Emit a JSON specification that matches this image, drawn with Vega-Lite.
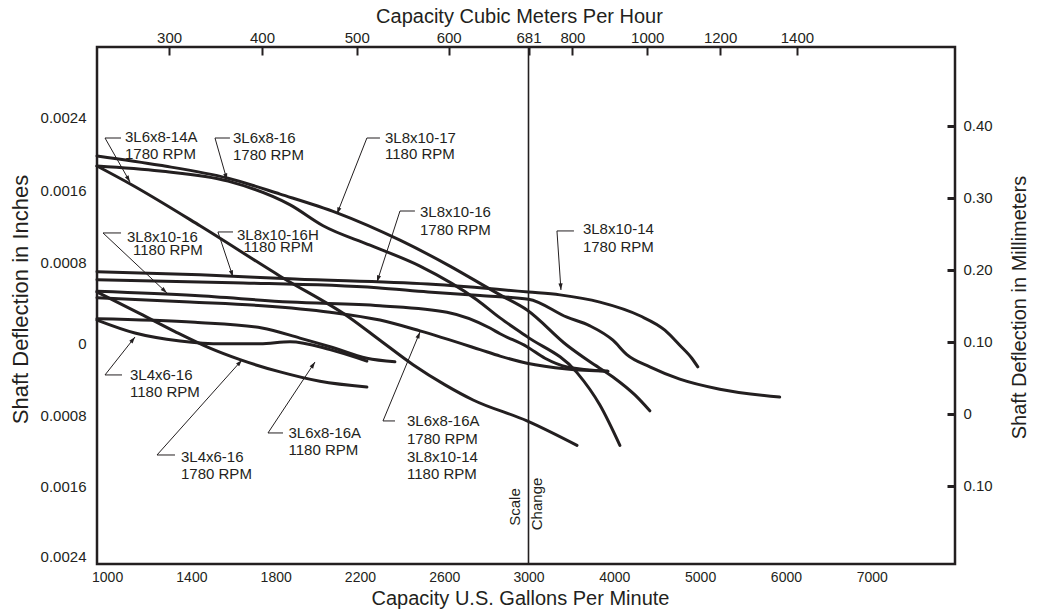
{
  "$schema": "https://vega.github.io/schema/vega-lite/v6.json",
  "width": 858,
  "height": 517,
  "autosize": "none",
  "padding": {"left": 97, "top": 47, "right": 86, "bottom": 47},
  "background": "white",
  "config": {
    "view": {"stroke": "#231f20", "strokeWidth": 2.5},
    "font": "Liberation Sans",
    "axis": {"labelFont": "Liberation Sans", "titleFont": "Liberation Sans", "labelColor": "#231f20", "titleColor": "#231f20", "titleFontWeight": "normal", "grid": false, "domain": false, "labelFlush": false, "labelOverlap": false, "labelBound": false},
    "text": {"font": "Liberation Sans", "color": "#231f20"}
  },
  "datasets": {
    "curves": [
      {"p": "3L6x8-14A 1780", "g": 952, "v": 0.344}, {"p": "3L6x8-14A 1780", "g": 1110, "v": 0.319}, {"p": "3L6x8-14A 1780", "g": 1441, "v": 0.261}, {"p": "3L6x8-14A 1780", "g": 1821, "v": 0.191}, {"p": "3L6x8-14A 1780", "g": 2153, "v": 0.133}, {"p": "3L6x8-14A 1780", "g": 2295, "v": 0.102}, {"p": "3L6x8-14A 1780", "g": 2452, "v": 0.068}, {"p": "3L6x8-14A 1780", "g": 2604, "v": 0.040}, {"p": "3L6x8-14A 1780", "g": 2737, "v": 0.019}, {"p": "3L6x8-14A 1780", "g": 2993, "v": -0.010}, {"p": "3L6x8-14A 1780", "g": 3565, "v": -0.044},
      {"p": "3L8x10-17 1180", "g": 952, "v": 0.358}, {"p": "3L8x10-17 1180", "g": 1251, "v": 0.345}, {"p": "3L8x10-17 1180", "g": 1574, "v": 0.327}, {"p": "3L8x10-17 1180", "g": 1821, "v": 0.305}, {"p": "3L8x10-17 1180", "g": 2091, "v": 0.279}, {"p": "3L8x10-17 1180", "g": 2390, "v": 0.241}, {"p": "3L8x10-17 1180", "g": 2627, "v": 0.205}, {"p": "3L8x10-17 1180", "g": 2817, "v": 0.173}, {"p": "3L8x10-17 1180", "g": 2865, "v": 0.165}, {"p": "3L8x10-17 1180", "g": 2993, "v": 0.144}, {"p": "3L8x10-17 1180", "g": 3448, "v": 0.095}, {"p": "3L8x10-17 1180", "g": 3716, "v": 0.072}, {"p": "3L8x10-17 1180", "g": 3984, "v": 0.051}, {"p": "3L8x10-17 1180", "g": 4240, "v": 0.026}, {"p": "3L8x10-17 1180", "g": 4414, "v": 0.004},
      {"p": "3L6x8-16 1780", "g": 952, "v": 0.344}, {"p": "3L6x8-16 1780", "g": 1251, "v": 0.337}, {"p": "3L6x8-16 1780", "g": 1574, "v": 0.323}, {"p": "3L6x8-16 1780", "g": 1869, "v": 0.290}, {"p": "3L6x8-16 1780", "g": 2025, "v": 0.261}, {"p": "3L6x8-16 1780", "g": 2248, "v": 0.234}, {"p": "3L6x8-16 1780", "g": 2485, "v": 0.205}, {"p": "3L6x8-16 1780", "g": 2756, "v": 0.158}, {"p": "3L6x8-16 1780", "g": 2865, "v": 0.133}, {"p": "3L6x8-16 1780", "g": 2993, "v": 0.107}, {"p": "3L6x8-16 1780", "g": 3565, "v": 0.057}, {"p": "3L6x8-16 1780", "g": 3832, "v": 0.012}, {"p": "3L6x8-16 1780", "g": 4065, "v": -0.044},
      {"p": "3L8x10-14 1780", "g": 952, "v": 0.197}, {"p": "3L8x10-14 1780", "g": 1441, "v": 0.193}, {"p": "3L8x10-14 1780", "g": 1892, "v": 0.187}, {"p": "3L8x10-14 1780", "g": 2523, "v": 0.180}, {"p": "3L8x10-14 1780", "g": 3000, "v": 0.169}, {"p": "3L8x10-14 1780", "g": 3367, "v": 0.165}, {"p": "3L8x10-14 1780", "g": 3832, "v": 0.155}, {"p": "3L8x10-14 1780", "g": 4298, "v": 0.136}, {"p": "3L8x10-14 1780", "g": 4589, "v": 0.116}, {"p": "3L8x10-14 1780", "g": 4763, "v": 0.095}, {"p": "3L8x10-14 1780", "g": 4903, "v": 0.077}, {"p": "3L8x10-14 1780", "g": 4973, "v": 0.065},
      {"p": "3L8x10-16 1780", "g": 952, "v": 0.186}, {"p": "3L8x10-16 1780", "g": 1598, "v": 0.182}, {"p": "3L8x10-16 1780", "g": 2281, "v": 0.175}, {"p": "3L8x10-16 1780", "g": 2523, "v": 0.169}, {"p": "3L8x10-16 1780", "g": 2770, "v": 0.164}, {"p": "3L8x10-16 1780", "g": 3000, "v": 0.159}, {"p": "3L8x10-16 1780", "g": 3448, "v": 0.134}, {"p": "3L8x10-16 1780", "g": 3716, "v": 0.122}, {"p": "3L8x10-16 1780", "g": 3984, "v": 0.102}, {"p": "3L8x10-16 1780", "g": 4146, "v": 0.082}, {"p": "3L8x10-16 1780", "g": 4414, "v": 0.065}, {"p": "3L8x10-16 1780", "g": 4763, "v": 0.048}, {"p": "3L8x10-16 1780", "g": 5229, "v": 0.034}, {"p": "3L8x10-16 1780", "g": 5927, "v": 0.023},
      {"p": "3L8x10-16 1180", "g": 952, "v": 0.170}, {"p": "3L8x10-16 1180", "g": 1417, "v": 0.164}, {"p": "3L8x10-16 1180", "g": 1868, "v": 0.155}, {"p": "3L8x10-16 1180", "g": 2295, "v": 0.150}, {"p": "3L8x10-16 1180", "g": 2613, "v": 0.141}, {"p": "3L8x10-16 1180", "g": 2817, "v": 0.119}, {"p": "3L8x10-16 1180", "g": 2865, "v": 0.111}, {"p": "3L8x10-16 1180", "g": 2993, "v": 0.093}, {"p": "3L8x10-16 1180", "g": 3192, "v": 0.077}, {"p": "3L8x10-16 1180", "g": 3448, "v": 0.065}, {"p": "3L8x10-16 1180", "g": 3925, "v": 0.059},
      {"p": "3L6x8-16A 1780", "g": 952, "v": 0.161}, {"p": "3L6x8-16A 1780", "g": 1393, "v": 0.155}, {"p": "3L6x8-16A 1780", "g": 1735, "v": 0.150}, {"p": "3L6x8-16A 1780", "g": 2058, "v": 0.141}, {"p": "3L6x8-16A 1780", "g": 2295, "v": 0.130}, {"p": "3L6x8-16A 1780", "g": 2485, "v": 0.115}, {"p": "3L6x8-16A 1780", "g": 2770, "v": 0.089}, {"p": "3L6x8-16A 1780", "g": 2865, "v": 0.080}, {"p": "3L6x8-16A 1780", "g": 2993, "v": 0.070}, {"p": "3L6x8-16A 1780", "g": 3448, "v": 0.062}, {"p": "3L6x8-16A 1780", "g": 3925, "v": 0.059},
      {"p": "3L4x6-16 1780", "g": 952, "v": 0.169}, {"p": "3L4x6-16 1780", "g": 1156, "v": 0.139}, {"p": "3L4x6-16 1780", "g": 1322, "v": 0.114}, {"p": "3L4x6-16 1780", "g": 1488, "v": 0.091}, {"p": "3L4x6-16 1780", "g": 1631, "v": 0.075}, {"p": "3L4x6-16 1780", "g": 1821, "v": 0.058}, {"p": "3L4x6-16 1780", "g": 2010, "v": 0.045}, {"p": "3L4x6-16 1780", "g": 2233, "v": 0.037},
      {"p": "3L4x6-16 1180", "g": 952, "v": 0.130}, {"p": "3L4x6-16 1180", "g": 1132, "v": 0.112}, {"p": "3L4x6-16 1180", "g": 1346, "v": 0.101}, {"p": "3L4x6-16 1180", "g": 1550, "v": 0.097}, {"p": "3L4x6-16 1180", "g": 1726, "v": 0.097}, {"p": "3L4x6-16 1180", "g": 1868, "v": 0.100}, {"p": "3L4x6-16 1180", "g": 2058, "v": 0.089}, {"p": "3L4x6-16 1180", "g": 2233, "v": 0.073},
      {"p": "3L6x8-16A 1180", "g": 952, "v": 0.132}, {"p": "3L6x8-16A 1180", "g": 1417, "v": 0.127}, {"p": "3L6x8-16A 1180", "g": 1735, "v": 0.119}, {"p": "3L6x8-16A 1180", "g": 1915, "v": 0.105}, {"p": "3L6x8-16A 1180", "g": 2058, "v": 0.093}, {"p": "3L6x8-16A 1180", "g": 2233, "v": 0.077}, {"p": "3L6x8-16A 1180", "g": 2366, "v": 0.072}
    ],
    "arrows": [
      {"id": 1, "sx": 990, "sy": 0.3829, "lx": 1066, "tx": 1108.6, "ty": 0.3218},
      {"id": 2, "sx": 1512, "sy": 0.3829, "lx": 1583, "tx": 1569, "ty": 0.3246},
      {"id": 3, "sx": 2233, "sy": 0.3829, "lx": 2295, "tx": 2091, "ty": 0.2774},
      {"id": 4, "sx": 980.5, "sy": 0.2510, "lx": 1066, "tx": 1284, "ty": 0.1676},
      {"id": 5, "sx": 1526, "sy": 0.2524, "lx": 1597.5, "tx": 1597.5, "ty": 0.1899},
      {"id": 6, "sx": 2390, "sy": 0.2815, "lx": 2461, "tx": 2281, "ty": 0.1829},
      {"id": 7, "sx": 3331.7, "sy": 0.2538, "lx": 3529.6, "tx": 3378.3, "ty": 0.1718},
      {"id": 8, "sx": 990, "sy": 0.0538, "lx": 1070.7, "tx": 1132.4, "ty": 0.1065},
      {"id": 9, "sx": 1236.8, "sy": -0.0574, "lx": 1322.2, "tx": 1640.2, "ty": 0.0746},
      {"id": 10, "sx": 1763.6, "sy": -0.0268, "lx": 1834.8, "tx": 1986.7, "ty": 0.0718},
      {"id": 11, "sx": 2309.4, "sy": -0.0101, "lx": 2366.4, "tx": 2485, "ty": 0.1135}
    ],
    "labels": [
      {"t": "3L6x8-14A", "g": 1084.9, "v": 0.3774}, {"t": "1780 RPM", "g": 1084.9, "v": 0.3533},
      {"t": "3L6x8-16", "g": 1597.5, "v": 0.3760}, {"t": "1780 RPM", "g": 1597.5, "v": 0.3517},
      {"t": "3L8x10-17", "g": 2318.9, "v": 0.3764}, {"t": "1180 RPM", "g": 2318.9, "v": 0.3533},
      {"t": "3L8x10-16", "g": 1094.4, "v": 0.2380}, {"t": "1180 RPM", "g": 1122.9, "v": 0.2208},
      {"t": "3L8x10-16H", "g": 1616.5, "v": 0.2418}, {"t": "1180 RPM", "g": 1647.3, "v": 0.2240},
      {"t": "3L8x10-16", "g": 2485.0, "v": 0.2736}, {"t": "1780 RPM", "g": 2485.0, "v": 0.2482},
      {"t": "3L8x10-14", "g": 3634.3, "v": 0.2496}, {"t": "1780 RPM", "g": 3634.3, "v": 0.2250},
      {"t": "3L4x6-16", "g": 1108.6, "v": 0.0468}, {"t": "1180 RPM", "g": 1108.6, "v": 0.0236},
      {"t": "3L4x6-16", "g": 1350.7, "v": -0.0667}, {"t": "1780 RPM", "g": 1350.7, "v": -0.0911},
      {"t": "3L6x8-16A", "g": 1860.9, "v": -0.0338}, {"t": "1180 RPM", "g": 1860.9, "v": -0.0574},
      {"t": "3L6x8-16A", "g": 2423.3, "v": -0.0171}, {"t": "1780 RPM", "g": 2423.3, "v": -0.0421},
      {"t": "3L8x10-14", "g": 2423.3, "v": -0.0667}, {"t": "1180 RPM", "g": 2423.3, "v": -0.0911}
    ],
    "notes": [
      {"t": "Scale", "g": 2936, "v": -0.1296},
      {"t": "Change", "g": 3099, "v": -0.1254}
    ],
    "change": [
      {"g": 3000}
    ]
  },
  "layer": [
    {
      "data": {"name": "curves"},
      "mark": {"type": "line", "interpolate": "monotone", "strokeWidth": 3, "color": "#231f20", "strokeCap": "round"},
      "encoding": {
        "x": {"field": "g", "type": "quantitative", "scale": {"domain": [952, 3000, 7970], "range": [0, 431.5, 858], "nice": false, "zero": false},
          "axis": {"orient": "bottom", "values": [1000, 1400, 1800, 2200, 2600, 3000, 4000, 5000, 6000, 7000], "format": "d", "ticks": false, "labelPadding": 6, "labelFontSize": 14, "title": "Capacity U.S. Gallons Per Minute", "titleFontSize": 20, "titleX": 423, "titleY": 40, "titleAlign": "center", "titleBaseline": "alphabetic", "titleAnchor": null}},
        "y": {"field": "v", "type": "quantitative", "scale": {"domain": [-0.2088, 0.5093], "nice": false, "zero": false},
          "axis": {"orient": "left", "values": [0.412, 0.31, 0.21, 0.098, -0.002, -0.101, -0.198], "labelExpr": "datum.value > 0.36 ? '0.0024' : datum.value > 0.26 ? '0.0016' : datum.value > 0.15 ? '0.0008' : datum.value > 0.05 ? '0' : datum.value > -0.05 ? '0.0008' : datum.value > -0.15 ? '0.0016' : '0.0024'", "ticks": false, "labelPadding": 11, "labelFontSize": 15, "title": "Shaft Deflection in Inches", "titleFontSize": 22, "titleAngle": 270, "titleX": -70, "titleY": 252, "titleAlign": "center", "titleBaseline": "alphabetic", "titleAnchor": null}},
        "detail": {"field": "p"}
      }
    },
    {
      "data": {"name": "change"},
      "mark": {"type": "rule", "strokeWidth": 1.6, "color": "#231f20"},
      "encoding": {
        "x": {"field": "g", "type": "quantitative", "scale": {"domain": [952, 3000, 7970], "range": [0, 431.5, 858], "nice": false, "zero": false},
          "axis": {"orient": "top", "values": [1294, 1735, 2185, 2621, 3000, 3512, 4384, 5233, 6128], "labelExpr": "datum.value < 1500 ? '300' : datum.value < 2000 ? '400' : datum.value < 2400 ? '500' : datum.value < 2800 ? '600' : datum.value < 3200 ? '681' : datum.value < 4000 ? '800' : datum.value < 4800 ? '1000' : datum.value < 5600 ? '1200' : '1400'", "tickSize": -8, "tickWidth": 2, "tickColor": "#231f20", "labelPadding": 10, "labelFontSize": 15, "title": "Capacity Cubic Meters Per Hour", "titleFontSize": 20, "titleX": 422, "titleY": -25, "titleAlign": "center", "titleBaseline": "alphabetic", "titleAnchor": null}}
      }
    },
    {
      "data": {"name": "arrows"},
      "mark": {"type": "rule", "strokeWidth": 1, "color": "#231f20"},
      "encoding": {
        "x": {"field": "sx", "type": "quantitative", "scale": {"domain": [952, 3000, 7970], "range": [0, 431.5, 858], "nice": false, "zero": false}, "axis": null},
        "x2": {"field": "tx"},
        "y": {"field": "sy", "type": "quantitative", "scale": {"domain": [-0.2088, 0.5093], "nice": false, "zero": false},
          "axis": {"orient": "right", "values": [0.4, 0.3, 0.2, 0.1, 0, -0.1], "labelExpr": "datum.value > 0.05 || datum.value < -0.05 ? format(abs(datum.value), '.2f') : '0'", "tickSize": -8, "tickWidth": 3, "tickColor": "#231f20", "labelPadding": 16, "labelFontSize": 15, "title": "Shaft Deflection in Millimeters", "titleFontSize": 20, "titleAngle": 270, "titleX": 70, "titleY": 260, "titleAlign": "center", "titleBaseline": "alphabetic", "titleAnchor": null}},
        "y2": {"field": "ty"}
      }
    },
    {
      "data": {"name": "arrows"},
      "mark": {"type": "rule", "strokeWidth": 1, "color": "#231f20"},
      "encoding": {
        "x": {"field": "sx", "type": "quantitative", "scale": {"domain": [952, 3000, 7970], "range": [0, 431.5, 858], "nice": false, "zero": false}, "axis": null},
        "x2": {"field": "lx"},
        "y": {"field": "sy", "type": "quantitative", "scale": {"domain": [-0.2088, 0.5093], "nice": false, "zero": false}, "axis": null}
      }
    },
    {
      "data": {"name": "arrows"},
      "transform": [
        {"calculate": "(atan2(scale('x', datum.tx) - scale('x', datum.sx), scale('y', datum.sy) - scale('y', datum.ty)) * 180 / PI + 360) % 360", "as": "ang"}
      ],
      "mark": {"type": "point", "shape": "M0,0L-0.7,2.2L0.7,2.2Z", "filled": true, "size": 36, "color": "#231f20", "opacity": 1, "strokeWidth": 0},
      "encoding": {
        "x": {"field": "tx", "type": "quantitative", "scale": {"domain": [952, 3000, 7970], "range": [0, 431.5, 858], "nice": false, "zero": false}, "axis": null},
        "y": {"field": "ty", "type": "quantitative", "scale": {"domain": [-0.2088, 0.5093], "nice": false, "zero": false}, "axis": null},
        "angle": {"field": "ang", "type": "quantitative", "scale": null}
      }
    },
    {
      "data": {"name": "labels"},
      "mark": {"type": "text", "align": "left", "baseline": "alphabetic", "fontSize": 15, "color": "#231f20"},
      "encoding": {
        "x": {"field": "g", "type": "quantitative", "scale": {"domain": [952, 3000, 7970], "range": [0, 431.5, 858], "nice": false, "zero": false}, "axis": null},
        "y": {"field": "v", "type": "quantitative", "scale": {"domain": [-0.2088, 0.5093], "nice": false, "zero": false}, "axis": null},
        "text": {"field": "t"}
      }
    },
    {
      "data": {"name": "notes"},
      "mark": {"type": "text", "align": "center", "baseline": "middle", "angle": 270, "fontSize": 15, "color": "#231f20"},
      "encoding": {
        "x": {"field": "g", "type": "quantitative", "scale": {"domain": [952, 3000, 7970], "range": [0, 431.5, 858], "nice": false, "zero": false}, "axis": null},
        "y": {"field": "v", "type": "quantitative", "scale": {"domain": [-0.2088, 0.5093], "nice": false, "zero": false}, "axis": null},
        "text": {"field": "t"}
      }
    }
  ],
  "resolve": {"axis": {"x": "independent", "y": "independent"}}
}
